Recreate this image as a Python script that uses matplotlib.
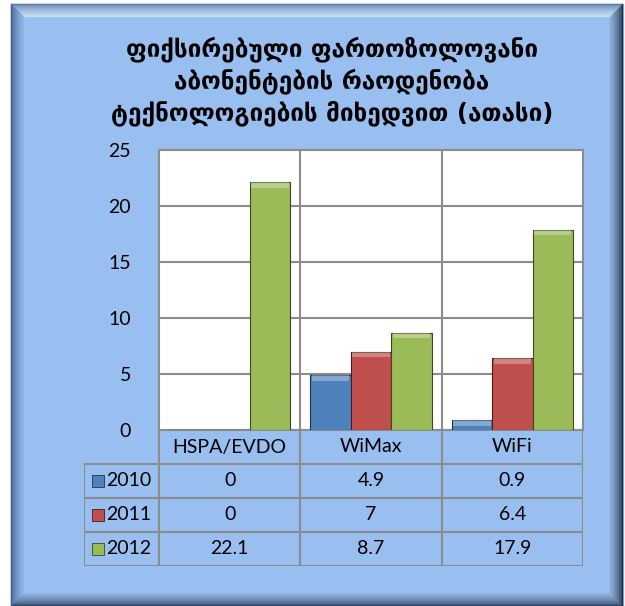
import numpy as np
import matplotlib.pyplot as plt
from matplotlib.patches import Polygon, Rectangle
from matplotlib.colors import to_rgb

# --- données ---
categories = ['HSPA/EVDO', 'WiMax', 'WiFi']
years = ['2010', '2011', '2012']
v2010 = [0, 4.9, 0.9]
v2011 = [0, 7, 6.4]
v2012 = [22.1, 8.7, 17.9]
series = [v2010, v2011, v2012]
colors = ['#4f81bd', '#c0504d', '#9bbb59']
edges = ['#1f3550', '#4a1a18', '#3a4a1c']
title = "ფიქსირებული ფართოზოლოვანი\nაბონენტების რაოდენობა\nტექნოლოგიების მიხედვით (ათასი)"

W, H = 625, 606
fig = plt.figure(figsize=(W / 100, H / 100), dpi=100)
fig.patch.set_facecolor('white')

# --- cadre biseauté ---
bg = fig.add_axes([0, 0, 1, 1])
bg.set_xlim(0, W)
bg.set_ylim(H, 0)
bg.axis('off')
x0, y0, x1, y1 = 11, 4, 623, 606
bev = 13
inner = '#98bff0'
bg.add_patch(Rectangle((x0, y0), x1 - x0, y1 - y0, color=inner, zorder=0))


def mix(c1, c2, t):
    a, b = np.array(to_rgb(c1)), np.array(to_rgb(c2))
    return tuple(a + (b - a) * t)


sides = {
    'top': ('#5a7aa5', '#c5ddf8'),
    'left': ('#3e5e8c', '#8fb5e6'),
    'right': ('#1c2a40', '#8aaed8'),
    'bottom': ('#2b3f5c', '#8fb3e0'),
}
for k in range(bev):
    a, b = k, k + 1
    t = k / (bev - 1)
    strips = {
        'top': [(x0 + a, y0 + a), (x1 - a, y0 + a), (x1 - b, y0 + b), (x0 + b, y0 + b)],
        'bottom': [(x0 + a, y1 - a), (x1 - a, y1 - a), (x1 - b, y1 - b), (x0 + b, y1 - b)],
        'left': [(x0 + a, y0 + a), (x0 + b, y0 + b), (x0 + b, y1 - b), (x0 + a, y1 - a)],
        'right': [(x1 - a, y0 + a), (x1 - b, y0 + b), (x1 - b, y1 - b), (x1 - a, y1 - a)],
    }
    for s, pts in strips.items():
        c = mix(sides[s][0], sides[s][1], t ** 0.6)
        bg.add_patch(Polygon(pts, closed=True, facecolor=c, edgecolor=c, lw=0.3, zorder=1))

# --- titre ---
fig.text(332 / W, 1 - 81 / H, title, ha='center', va='center', fontsize=17.5,
         fontweight='bold', family='DejaVu Sans', linespacing=1.32, color='black')

# --- graphique ---
grey = '#8c8c8c'
fs = 14
ax = fig.add_axes([159 / W, (H - 430) / H, 424 / W, 280 / H])
ax.set_facecolor('white')
ax.set_xlim(-0.5, 2.5)
ax.set_ylim(0, 25)
ax.set_yticks([0, 5, 10, 15, 20, 25])
ax.set_xticks([])
ax.tick_params(axis='y', length=0, labelsize=fs, pad=20)
for lab in ax.get_yticklabels():
    lab.set_family('Lato')
for sp in ax.spines.values():
    sp.set_color(grey)
    sp.set_linewidth(1.5)
ax.grid(axis='y', color=grey, lw=1.5)
for xv in [0.5, 1.5]:
    ax.axvline(xv, color=grey, lw=1.5)
ax.set_axisbelow(True)

x = np.arange(len(categories))
bw = 1 / 3.5
for i, vals in enumerate(series):
    pos = x + (i - 1) * bw
    ax.bar(pos, vals, width=bw, color=colors[i], edgecolor=edges[i], lw=0.8, zorder=3)
    # reflet en haut de la barre
    hl = [min(v, 0.5) for v in vals]
    ax.bar(pos, hl, width=bw * 0.92, bottom=np.array(vals) - np.array(hl),
           color='white', alpha=0.3, lw=0, zorder=4)

# --- tableau de données ---
xl = -0.5 - 75 / (424 / 3)
tb = fig.add_axes([84 / W, (H - 566) / H, 499 / W, 136 / H])
tb.set_xlim(xl, 2.5)
tb.set_ylim(4, 0)
tb.axis('off')
for yv in [1, 2, 3, 4]:
    tb.plot([xl, 2.5], [yv, yv], color=grey, lw=1.5)
tb.plot([xl, xl], [1, 4], color=grey, lw=1.5)
for xv in [-0.5, 0.5, 1.5, 2.5]:
    tb.plot([xv, xv], [0, 4], color=grey, lw=1.5)
for j, cat in enumerate(categories):
    tb.text(x[j], 0.5, cat, ha='center', va='center', fontsize=fs, family='Lato')
for i, vals in enumerate(series):
    yc = i + 1.5
    tb.scatter([xl + 0.1], [yc], marker='s', s=75, color=colors[i],
               edgecolor=edges[i], lw=0.6, zorder=3)
    tb.text(xl + 0.16, yc, years[i], ha='left', va='center', fontsize=fs, family='Lato')
    for j, v in enumerate(vals):
        tb.text(x[j], yc, f"{v:g}", ha='center', va='center', fontsize=fs, family='Lato')

fig.savefig('out.png', dpi=100)
